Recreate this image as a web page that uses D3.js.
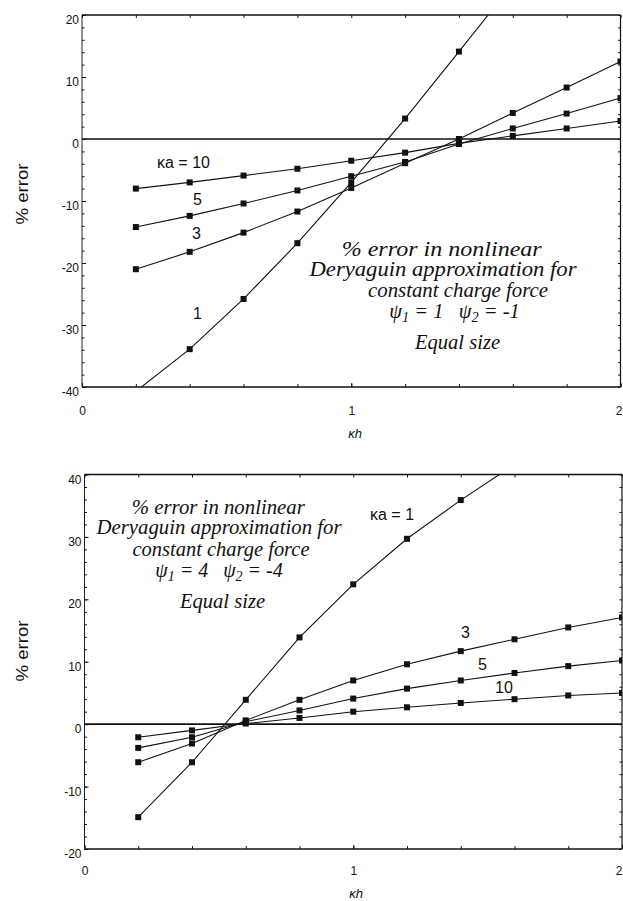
<!DOCTYPE html>
<html>
<head>
<meta charset="utf-8">
<script src="https://cdn.jsdelivr.net/npm/d3@7"></script>
<style>
  html, body { margin: 0; padding: 0; background: #fff; }
  svg { display: block; }
  text { white-space: pre; }
</style>
</head>
<body>
<svg id="chart" width="623" height="901"></svg>
<script>
// κh values shared by every curve
const kh = [0.2, 0.4, 0.6, 0.8, 1.0, 1.2, 1.4, 1.6, 1.8, 2.0];

// Panel 1: ψ1 = 1, ψ2 = -1  (% error, one array per κa)
const top_ka1  = [-40.7, -33.9, -25.8, -16.8, -7.0, 3.3, 14.1, 25.0];
const top_ka3  = [-21.0, -18.2, -15.1, -11.7, -7.9, -3.9, 0.0, 4.2, 8.3, 12.5];
const top_ka5  = [-14.2, -12.4, -10.4, -8.3, -6.0, -3.7, -0.8, 1.7, 4.1, 6.6];
const top_ka10 = [-8.0, -7.0, -5.9, -4.8, -3.5, -2.2, -0.7, 0.5, 1.7, 2.9];

// Panel 2: ψ1 = 4, ψ2 = -4
const bot_ka1  = [-14.9, -6.1, 3.9, 13.9, 22.4, 29.7, 35.9, 41.6];
const bot_ka3  = [-6.1, -3.1, 0.6, 3.9, 7.0, 9.6, 11.7, 13.6, 15.5, 17.1];
const bot_ka5  = [-3.8, -2.1, 0.4, 2.2, 4.1, 5.7, 7.0, 8.2, 9.3, 10.2];
const bot_ka10 = [-2.1, -1.0, 0.1, 1.0, 2.0, 2.7, 3.4, 4.0, 4.6, 5.0];

// Axis tick labels
const xTicks = [0, 1, 2];
const topYTicks = [20, 10, 0, -10, -20, -30, -40];
const botYTicks = [40, 30, 20, 10, 0, -10, -20];

// Curve labels and annotation text
const topCurveLabels = ["κa = 10", "5", "3", "1"];
const botCurveLabels = ["κa = 1", "3", "5", "10"];
const topNote = ["% error in nonlinear", "Deryaguin approximation for", "constant charge force", ["4", "1", "1", "2", "-1"], "Equal size"];
const botNote = ["% error in nonlinear", "Deryaguin approximation for", "constant charge force", ["4", "1", "4", "2", "-4"], "Equal size"];

const svg = d3.select("#chart");

const panels = [
  {
    id: "p1",
    xr: [82, 620.5], yd: [-40, 20], yr: [387, 15],
    yTicks: topYTicks, xPad: 19,
    series: [top_ka1, top_ka3, top_ka5, top_ka10],
    labels: topCurveLabels,
    labelPos: [[157, 168], [193, 205], [192, 239], [193, 319]],
    note: topNote,
    noteLayout: [[441.7, 256, 200], [443, 276, 267], [458, 297, 180], [454.5, 318, 0], [457.5, 348.5, 85]],
    noteSize: 20.5,
    yTitle: [22, 194], xTitle: [355, 438]
  },
  {
    id: "p2",
    xr: [84.5, 622], yd: [-20, 40], yr: [849, 474.5],
    yTicks: botYTicks, xPad: 17,
    series: [bot_ka1, bot_ka3, bot_ka5, bot_ka10],
    labels: botCurveLabels,
    labelPos: [[370, 520], [461, 638], [478, 670], [495, 693]],
    note: botNote,
    noteLayout: [[218.3, 514, 173], [219, 534.3, 245], [221, 555.5, 177], [219, 576.5, 0], [222.5, 608, 85]],
    noteSize: 20,
    yTitle: [22, 651], xTitle: [356, 898]
  }
];

panels.forEach(p => {
  const x = d3.scaleLinear().domain([0, 2]).range(p.xr);
  const y = d3.scaleLinear().domain(p.yd).range(p.yr);
  const [x0, x1] = p.xr;
  const [yb, yt] = p.yr;
  const g = svg.append("g");

  // clip region for the curves
  svg.append("clipPath").attr("id", "clip-" + p.id)
    .append("rect").attr("x", x0).attr("y", yt).attr("width", x1 - x0).attr("height", yb - yt);

  const minorY = d3.range(p.yd[0], p.yd[1] + 0.001, 2);
  const minorX = d3.range(0, 2.0001, 0.2).map(v => +v.toFixed(1));

  const sty = sel => {
    sel.select(".domain").remove();
    sel.selectAll("line").attr("stroke", "#111").attr("stroke-width", 1);
    sel.selectAll("text").attr("font-family", "Liberation Sans, Arial, sans-serif")
      .attr("font-size", 12).attr("fill", "#111");
  };

  // left axis: labels hang just below their tick
  g.append("g").attr("transform", `translate(${x0},0)`)
    .call(d3.axisLeft(y).tickValues(minorY).tickSize(-2.5).tickFormat(""))
    .call(sty);
  g.append("g").attr("transform", `translate(${x0},0)`)
    .call(d3.axisLeft(y).tickValues(p.yTicks).tickSize(-4).tickPadding(3).tickFormat(d => d < 0 ? "-" + Math.abs(d) : d))
    .call(sty)
    .call(s => s.selectAll("text").attr("dy", "0.71em"));

  // right axis, ticks inward only
  g.append("g").attr("transform", `translate(${x1},0)`)
    .call(d3.axisRight(y).tickValues(minorY).tickSize(-2.5).tickFormat(""))
    .call(sty);

  // bottom axis; the last label sits flush against the page edge
  g.append("g").attr("transform", `translate(0,${yb})`)
    .call(d3.axisBottom(x).tickValues(minorX).tickSize(-3).tickFormat(""))
    .call(sty);
  g.append("g").attr("transform", `translate(0,${yb})`)
    .call(d3.axisBottom(x).tickValues(xTicks).tickSize(-4).tickPadding(p.xPad).tickFormat(d3.format("d")))
    .call(sty)
    .call(s => s.selectAll(".tick").filter(d => d === 2).select("text")
      .attr("text-anchor", "end").attr("x", 622 - x(2)));

  // top axis ticks
  g.append("g").attr("transform", `translate(0,${yt})`)
    .call(d3.axisTop(x).tickValues(minorX).tickSize(-3).tickFormat(""))
    .call(sty);

  // frame
  g.append("line").attr("x1", x0).attr("x2", x1).attr("y1", yt).attr("y2", yt).attr("stroke", "#111").attr("stroke-width", 1.6);
  g.append("line").attr("x1", x0).attr("x2", x1).attr("y1", yb).attr("y2", yb).attr("stroke", "#111").attr("stroke-width", 1.6);
  g.append("line").attr("x1", x0).attr("x2", x0).attr("y1", yt).attr("y2", yb).attr("stroke", "#222").attr("stroke-width", 1);
  g.append("line").attr("x1", x1).attr("x2", x1).attr("y1", yt).attr("y2", yb).attr("stroke", "#111").attr("stroke-width", 1.2);

  // zero line
  g.append("line").attr("x1", x0).attr("x2", x1).attr("y1", y(0)).attr("y2", y(0))
    .attr("stroke", "#111").attr("stroke-width", 1.6);

  // curves with square markers
  const curves = g.append("g").attr("clip-path", `url(#clip-${p.id})`);
  const line = d3.line().x(d => x(d[0])).y(d => y(d[1]));
  p.series.forEach(vals => {
    const pts = vals.map((v, i) => [kh[i], v]);
    curves.append("path").attr("d", line(pts)).attr("fill", "none")
      .attr("stroke", "#111").attr("stroke-width", 1.1);
    curves.selectAll(null).data(pts).enter().append("rect")
      .attr("x", d => x(d[0]) - 3).attr("y", d => y(d[1]) - 3)
      .attr("width", 6).attr("height", 6).attr("fill", "#111");
  });

  // curve labels
  p.labels.forEach((t, i) => {
    g.append("text").attr("x", p.labelPos[i][0]).attr("y", p.labelPos[i][1])
      .attr("font-family", "Liberation Sans, Arial, sans-serif").attr("font-size", 16)
      .attr("fill", "#111").text(t);
  });

  // annotation block
  p.note.forEach((t, i) => {
    const [cx, cy, w] = p.noteLayout[i];
    const te = g.append("text").attr("x", cx).attr("y", cy)
      .attr("text-anchor", "middle")
      .attr("font-family", "Liberation Serif, Times New Roman, serif")
      .attr("font-style", "italic").attr("font-size", p.noteSize).attr("fill", "#111");
    if (Array.isArray(t)) {
      te.append("tspan").text("ψ");
      te.append("tspan").attr("font-size", p.noteSize * 0.7).attr("dy", 4).text(t[1]);
      te.append("tspan").attr("dy", -4).text(" = " + t[2] + "   ψ");
      te.append("tspan").attr("font-size", p.noteSize * 0.7).attr("dy", 4).text(t[3]);
      te.append("tspan").attr("dy", -4).text(" = " + t[4]);
    } else {
      te.text(t);
      if (w) te.attr("textLength", w).attr("lengthAdjust", "spacingAndGlyphs");
    }
  });

  // axis titles
  g.append("text")
    .attr("transform", `translate(${p.yTitle[0] + 6},${p.yTitle[1]}) rotate(-90)`)
    .attr("text-anchor", "middle")
    .attr("font-family", "Liberation Sans, Arial, sans-serif").attr("font-size", 17)
    .attr("textLength", 61).attr("lengthAdjust", "spacingAndGlyphs")
    .attr("fill", "#111").text("% error");
  g.append("text").attr("x", p.xTitle[0]).attr("y", p.xTitle[1])
    .attr("text-anchor", "middle")
    .attr("font-family", "Liberation Sans, Arial, sans-serif").attr("font-style", "italic")
    .attr("font-size", 13).attr("fill", "#111").text("κh");
});
</script>
</body>
</html>
